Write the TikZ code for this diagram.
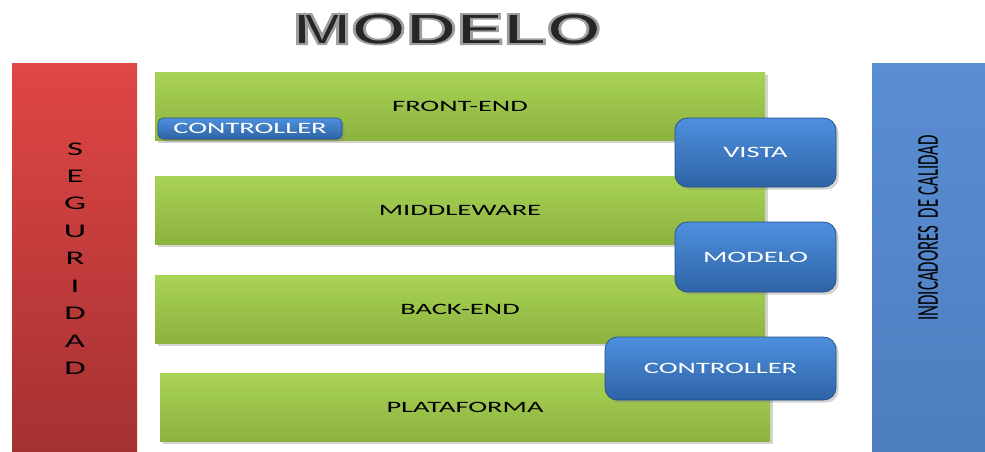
\documentclass[tikz,border=0pt]{standalone}
\usepackage{fontspec}
\setmainfont{Carlito}
\newfontfamily\titlefont{Liberation Sans}[BoldFeatures={FakeBold=4}]
\usepackage{graphicx}
\usetikzlibrary{shadows}
\definecolor{greenTop}{HTML}{A9D356}
\definecolor{greenBot}{HTML}{8CB23F}
\definecolor{redTop}{HTML}{E04646}
\definecolor{redBot}{HTML}{A53131}
\definecolor{indTop}{HTML}{5B8DD3}
\definecolor{indBot}{HTML}{4D7EBF}
\definecolor{mvcTop}{HTML}{4E90DE}
\definecolor{mvcBot}{HTML}{2E63A6}
\newcommand\ancho[1]{\scalebox{1.8}[1]{#1}}

\begin{document}
\begin{tikzpicture}[scale=1,
    capa/.style={rectangle,top color=greenTop,bottom color=greenBot,
      minimum width=12.2cm,minimum height=1.36cm,inner sep=0pt,
      font=\fontsize{9}{11}\selectfont,
      drop shadow={opacity=0.35,shadow xshift=1.5pt,shadow yshift=-1.5pt}},
    mvc/.style={rectangle,rounded corners=7pt,top color=mvcTop,bottom color=mvcBot,
      draw=mvcBot!80!black,line width=0.4pt,text=white,inner sep=0pt,
      font=\fontsize{9}{11}\selectfont,
      drop shadow={opacity=0.35,shadow xshift=1.5pt,shadow yshift=-1.5pt}},
    lateral/.style={rectangle,inner sep=0pt,minimum height=7.76cm}]
      \useasboundingbox (0,0) rectangle (19.7,9.02);
      \node[font=\titlefont,text=black!85] (titulo) at (8.94,8.44)
        {\scalebox{1.6}[1]{\special{pdf:code 0.62 0.62 0.62 RG}\fontsize{25}{28}\selectfont\bfseries MODELO}};
      \node[lateral,top color=redTop,bottom color=redBot,minimum width=2.5cm] (seguridad) at (1.49,3.88) {};
      \node[align=center,xscale=1.8,font=\fontsize{11}{15.6}\selectfont] (letras) at (1.5,3.85)
        {S\\E\\G\\U\\R\\I\\D\\A\\D};
      \node[lateral,top color=indTop,bottom color=indBot,minimum width=2.26cm] (indicadores) at (18.57,3.88) {};
      \node[xscale=1.8,rotate=90,font=\fontsize{9.6}{11}\selectfont] (calidad) at (18.56,4.46)
        {INDICADORES\ \ DE CALIDAD};
      \node[capa] (frontend) at (9.2,6.9) {\ancho{FRONT-END}};
      \node[capa] (middleware) at (9.2,4.82) {\ancho{MIDDLEWARE}};
      \node[capa] (backend) at (9.2,2.83) {\ancho{BACK-END}};
      \node[capa] (plataforma) at (9.3,0.87) {\ancho{PLATAFORMA}};
      \node[mvc,rounded corners=3pt,minimum width=3.68cm,minimum height=0.42cm] (controlfront) at (5.0,6.45) {\ancho{CONTROLLER}};
      \node[mvc,minimum width=3.22cm,minimum height=1.38cm] (vista) at (15.11,5.97) {\ancho{VISTA}};
      \node[mvc,minimum width=3.22cm,minimum height=1.4cm] (modelo) at (15.11,3.88) {\ancho{MODELO}};
      \node[mvc,minimum width=4.62cm,minimum height=1.26cm] (controller) at (14.41,1.65) {\ancho{CONTROLLER}};
\end{tikzpicture}
\end{document}
